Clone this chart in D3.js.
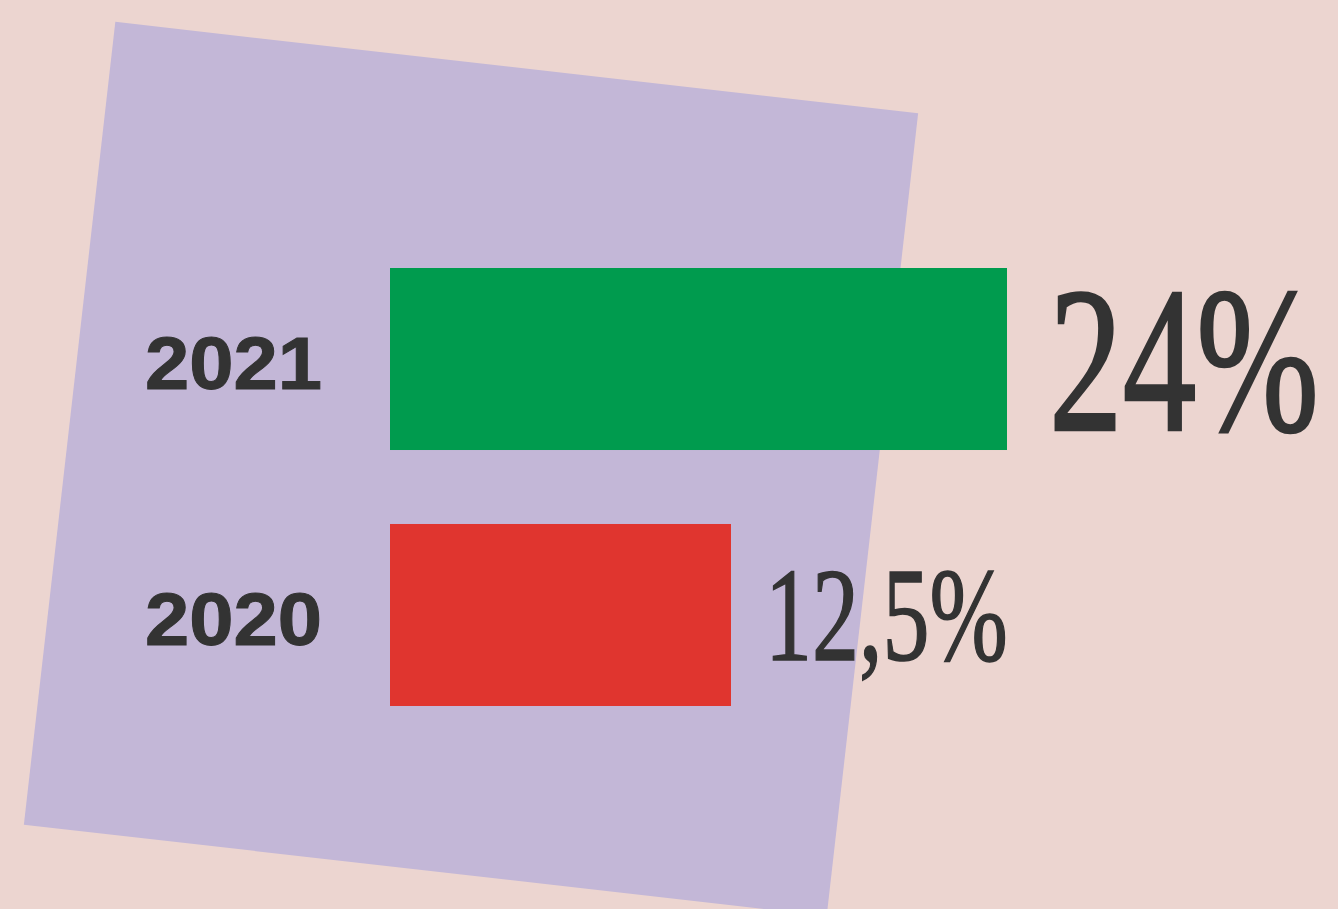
<!DOCTYPE html>
<html>
<head>
<meta charset="utf-8">
<script src="https://cdn.jsdelivr.net/npm/d3@7"></script>
<style>
  html, body { margin: 0; padding: 0; background: #ecd5d0; }
</style>
</head>
<body>
<div id="chart"></div>
<script>
// Data
const years = ["2021", "2020"];
const shares = [24, 12.5];
const barColors = ["#009b4e", "#e0352f"];

const width = 1338;
const height = 909;

const data = years.map((y, i) => ({ year: y, value: shares[i], color: barColors[i] }));

const svg = d3.select("#chart").append("svg")
    .attr("width", width)
    .attr("height", height)
    .style("display", "block");

svg.append("rect")
    .attr("width", width)
    .attr("height", height)
    .attr("fill", "#ecd5d0");

// Tilted square behind the bars
const side = 808;
svg.append("rect")
    .attr("x", -side / 2)
    .attr("y", -side / 2)
    .attr("width", side)
    .attr("height", side)
    .attr("fill", "#c3b7d7")
    .attr("transform", "translate(471,469) rotate(6.5)");

// Scales
const left = 390;
const x = d3.scaleLinear()
    .domain([0, 24])
    .range([41, 617]);

const y = d3.scaleBand()
    .domain(years)
    .range([268, 706])
    .paddingInner(0.289)
    .paddingOuter(0);

const labelSize = d3.scaleLinear()
    .domain([12.5, 24])
    .range([133, 208]);

const fmt = d3.formatLocale({ decimal: ",", thousands: ".", grouping: [3], currency: ["", "€"] })
    .format("~r");

// Bars
svg.selectAll("rect.bar")
    .data(data)
  .join("rect")
    .attr("class", "bar")
    .attr("x", left)
    .attr("y", d => y(d.year))
    .attr("width", d => x(d.value))
    .attr("height", y.bandwidth())
    .attr("fill", d => d.color);

// Year labels
svg.selectAll("text.year")
    .data(data)
  .join("text")
    .attr("class", "year")
    .attr("x", 145)
    .attr("y", d => y(d.year) + y.bandwidth() / 2 + 30)
    .attr("textLength", 177)
    .attr("lengthAdjust", "spacingAndGlyphs")
    .style("font-family", "'Liberation Sans', Arial, sans-serif")
    .style("font-weight", "bold")
    .style("font-size", "74px")
    .style("fill", "#333333")
    .style("stroke", "#333333")
    .style("stroke-width", 1)
    .text(d => d.year);

// Value labels (narrow serif: squeeze horizontally to the target width)
svg.selectAll("text.value")
    .data(data)
  .join("text")
    .attr("class", "value")
    .style("font-family", "'Liberation Serif', 'Times New Roman', serif")
    .style("font-size", d => labelSize(d.value) + "px")
    .style("fill", "#333333")
    .style("stroke", "#333333")
    .style("stroke-width", d => d.value > 20 ? 2.6 : 1.6)
    .text(d => fmt(d.value) + "%")
    .attr("transform", function(d) {
        const tx = left + x(d.value) + (d.value > 20 ? 42 : 34);
        const ty = y(d.year) + y.bandwidth() / 2 + labelSize(d.value) * 0.34;
        const target = d.value > 20 ? 270 : 243;
        const sx = target / this.getComputedTextLength();
        return `translate(${tx},${ty}) scale(${sx},1)`;
    });
</script>
</body>
</html>
